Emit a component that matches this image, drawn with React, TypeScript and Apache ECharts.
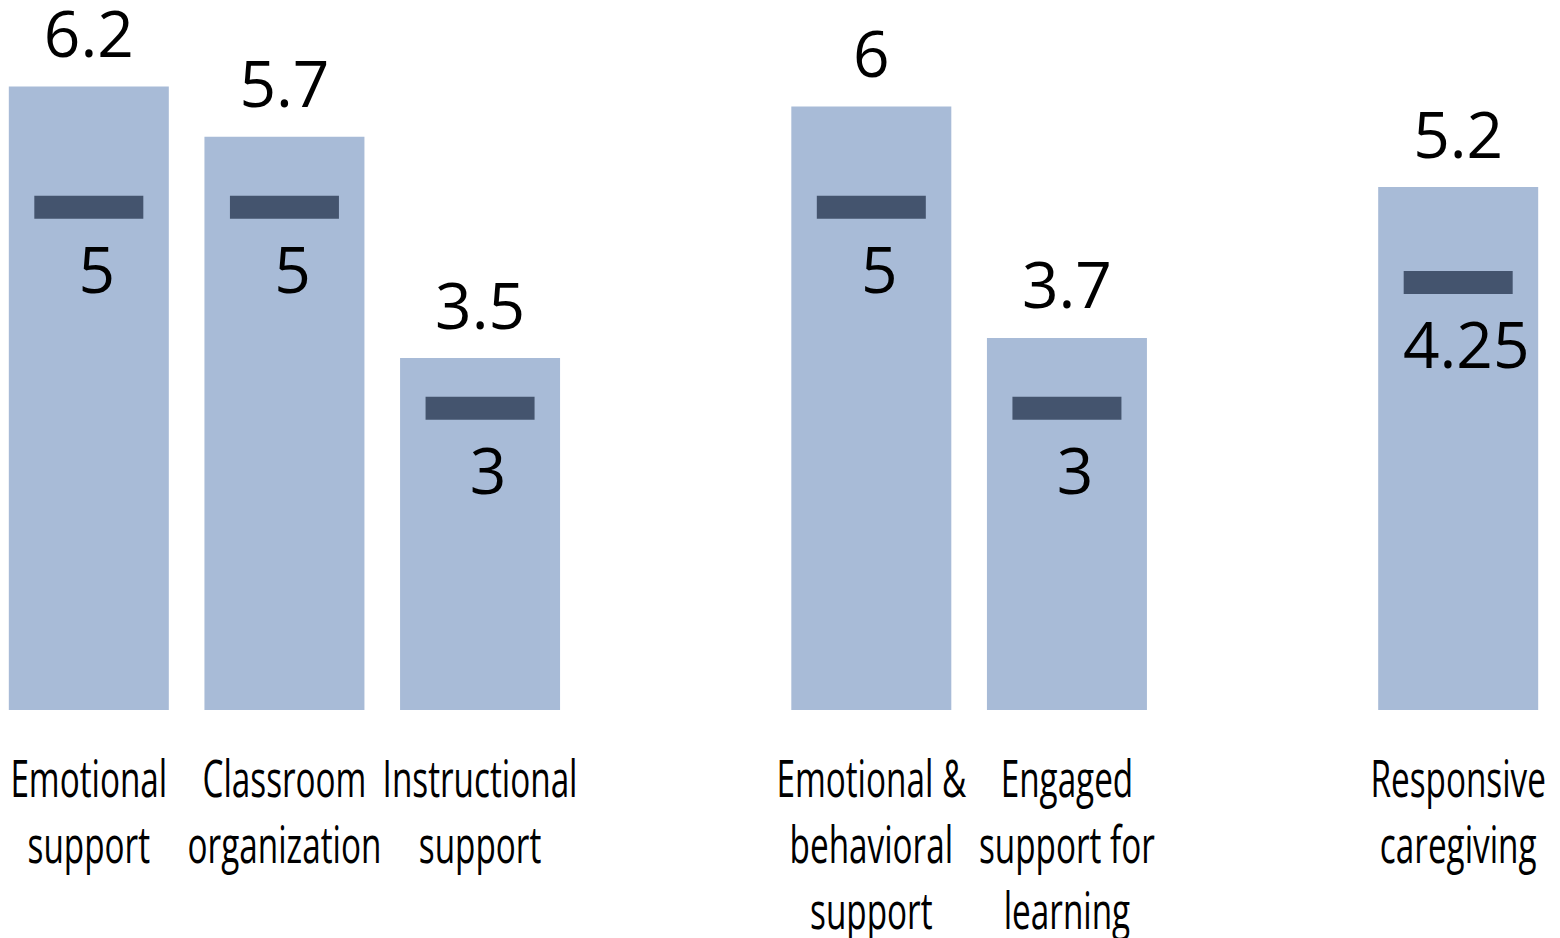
import React, { useEffect, useRef } from "react";
import * as echarts from "echarts";

const categories = [
  "Emotional\nsupport",
  "Classroom\norganization",
  "Instructional\nsupport",
  "",
  "Emotional &\nbehavioral\nsupport",
  "Engaged\nsupport for\nlearning",
  "",
  "Responsive\ncaregiving",
];
const barValues: (number | string)[] = [6.2, 5.7, 3.5, "-", 6, 3.7, "-", 5.2];
const targetValues: (number | string)[] = [5, 5, 3, "-", 5, 3, "-", 4.25];

export default function App() {
  const ref = useRef<HTMLDivElement>(null);
  useEffect(() => {
    if (!ref.current) return;
    const chart = echarts.init(ref.current, null, { renderer: "svg" });
    chart.setOption({
      animation: false,
      grid: {
        left: -9,
        right: 4,
        top: 6,
        bottom: 228,
        containLabel: false,
        outerBoundsMode: "none",
      },
      xAxis: {
        type: "category",
        data: categories,
        axisLine: { show: false },
        axisTick: { show: false },
        axisLabel: { show: false },
      },
      yAxis: {
        type: "value",
        min: 0,
        max: 7,
        show: false,
        splitLine: { show: false },
      },
      series: [
        {
          type: "bar",
          data: barValues,
          barWidth: 160,
          itemStyle: { color: "#A8BBD7" },
          label: {
            show: true,
            position: "top",
            distance: 25,
            fontFamily: "Open Sans",
            fontSize: 64,
            lineHeight: 58,
            color: "#000",
          },
        },
        {
          type: "scatter",
          data: targetValues,
          symbol: "rect",
          symbolSize: [109, 23],
          itemStyle: { color: "#44546E", opacity: 1 },
          label: {
            show: true,
            position: "inside",
            offset: [8, 61],
            fontFamily: "Open Sans",
            fontSize: 64,
            color: "#000",
          },
          z: 3,
        },
      ],
    });
    // Category labels drawn as condensed text, placed from the axis scale
    const baseY = chart.convertToPixel({ yAxisIndex: 0 }, 0) as number;
    const texts = categories
      .map((c, i) => ({ c, i }))
      .filter((d) => d.c !== "")
      .map((d) => ({
        type: "text",
        x: chart.convertToPixel({ xAxisIndex: 0 }, d.i) as number,
        y: baseY + 34,
        scaleX: 0.64,
        silent: true,
        style: {
          text: d.c,
          fontFamily: "Open Sans",
          fontSize: 52,
          fontWeight: 400,
          lineHeight: 66,
          fill: "#000",
          textAlign: "center",
          textVerticalAlign: "top",
        },
      }));
    chart.setOption({ graphic: texts });
    return () => chart.dispose();
  }, []);
  return (
    <div
      ref={ref}
      style={{ position: "absolute", left: 0, top: 0, width: 1560, height: 938 }}
    />
  );
}
